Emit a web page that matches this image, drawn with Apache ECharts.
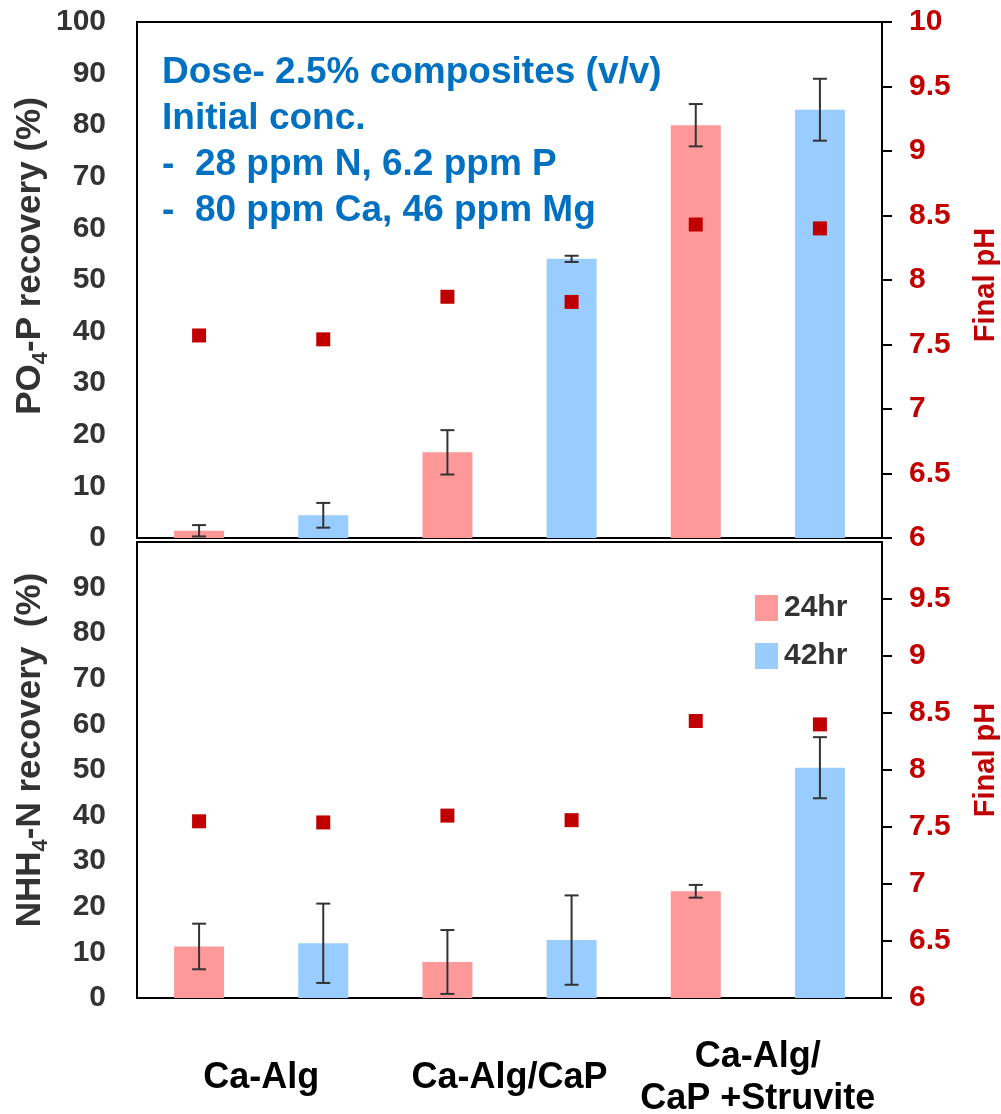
<!DOCTYPE html>
<html>
<head>
<meta charset="utf-8">
<script src="https://cdn.jsdelivr.net/npm/echarts@6/dist/echarts.min.js"></script>
<style>
  html, body { margin: 0; padding: 0; background: #fff; }
  #chart { width: 1001px; height: 1114px; }
</style>
</head>
<body>
<div id="chart"></div>
<script>
// One slot per bar: composite + contact time
const slots = ['Ca-Alg 24hr', 'Ca-Alg 42hr', 'Ca-Alg/CaP 24hr', 'Ca-Alg/CaP 42hr', 'Struvite 24hr', 'Struvite 42hr'];
const groupLabels = ['Ca-Alg', 'Ca-Alg/CaP', 'Ca-Alg/\nCaP +Struvite'];
const slotTime = ['24hr', '42hr', '24hr', '42hr', '24hr', '42hr'];

// PO4-P recovery (%) and its standard deviation
const po4Recovery = [1.4, 4.4, 16.6, 54.1, 80.0, 83.0];
const po4Err = [1.1, 2.4, 4.3, 0.6, 4.1, 6.0];
// NH4-N recovery (%) and its standard deviation
const nh4Recovery = [11.3, 12.0, 7.9, 12.7, 23.4, 50.5];
const nh4Err = [5.0, 8.7, 7.0, 9.8, 1.4, 6.7];
// Final pH
const phTop = [7.57, 7.54, 7.87, 7.83, 8.43, 8.40];
const phBottom = [7.55, 7.54, 7.60, 7.56, 8.43, 8.40];

// Axis ranges
const recoveryMin = 0, recoveryMax = 100, recoveryStep = 10;
const phMin = 6, phMax = 10, phStep = 0.5;

const FONT = "'Liberation Sans', Arial, sans-serif";
const DARK = '#333';
const RED = '#c00000';
const PINK = '#ff9999';
const BLUE = '#99ccff';

function pick(values, time) {
  return values.map((v, i) => (slotTime[i] === time ? v : '-'));
}
function errData(values, errs) {
  return values.map((v, i) => [i, Math.max(0, v - errs[i]), v + errs[i]]);
}

function renderErr(params, api) {
  const i = api.value(0);
  const lo = api.coord([i, api.value(1)]);
  const hi = api.coord([i, api.value(2)]);
  const half = 7;
  const st = { stroke: '#333', lineWidth: 2 };
  return {
    type: 'group',
    children: [
      { type: 'line', shape: { x1: lo[0], y1: lo[1], x2: hi[0], y2: hi[1] }, style: st },
      { type: 'line', shape: { x1: hi[0] - half, y1: hi[1], x2: hi[0] + half, y2: hi[1] }, style: st },
      { type: 'line', shape: { x1: lo[0] - half, y1: lo[1], x2: lo[0] + half, y2: lo[1] }, style: st }
    ]
  };
}

const leftAxisBase = {
  type: 'value', min: recoveryMin, max: recoveryMax, interval: recoveryStep,
  axisLine: { show: false }, axisTick: { show: false }, splitLine: { show: false },
  axisLabel: { margin: 31, fontSize: 30, fontWeight: 'bold', color: DARK, fontFamily: FONT }
};
const rightAxisBase = {
  type: 'value', position: 'right', min: phMin, max: phMax, interval: phStep,
  axisLine: { show: true, lineStyle: { color: '#000', width: 2 } },
  axisTick: { show: true, length: 10, lineStyle: { color: '#000', width: 2 } },
  splitLine: { show: false },
  axisLabel: { margin: 27, fontSize: 30, fontWeight: 'bold', color: RED, fontFamily: FONT }
};
const slotAxisBase = {
  type: 'category', data: slots,
  axisLine: { show: false }, axisTick: { show: false }, axisLabel: { show: false }
};

const subRich = {
  a: { fontSize: 35, fontWeight: 'bold', fill: DARK, fontFamily: FONT, lineHeight: 44 },
  s: { fontSize: 22, fontWeight: 'bold', fill: DARK, fontFamily: FONT, lineHeight: 22, verticalAlign: 'bottom' }
};

const chart = echarts.init(document.getElementById('chart'), null, { renderer: 'canvas' });
chart.setOption({
  animation: false,
  backgroundColor: '#fff',
  grid: [
    { left: 137, width: 745, top: 22, height: 516, outerBoundsMode: 'none', show: true, borderColor: '#000', borderWidth: 2 },
    { left: 137, width: 745, top: 542, height: 456, outerBoundsMode: 'none', show: true, borderColor: '#000', borderWidth: 2 }
  ],
  xAxis: [
    Object.assign({ gridIndex: 0 }, slotAxisBase),
    Object.assign({ gridIndex: 1 }, slotAxisBase),
    {
      gridIndex: 1, type: 'category', data: groupLabels, position: 'bottom',
      axisLine: { show: false }, axisTick: { show: false },
      axisLabel: {
        margin: 80, verticalAlign: 'middle', lineHeight: 42, interval: 0,
        fontSize: 36, fontWeight: 'bold', color: '#000', fontFamily: FONT
      }
    }
  ],
  yAxis: [
    Object.assign({ gridIndex: 0 }, leftAxisBase),
    Object.assign({ gridIndex: 0 }, rightAxisBase),
    Object.assign({}, leftAxisBase, { gridIndex: 1, axisLabel: Object.assign({}, leftAxisBase.axisLabel, { showMaxLabel: false }) }),
    Object.assign({}, rightAxisBase, { gridIndex: 1, axisLabel: Object.assign({}, rightAxisBase.axisLabel, { showMaxLabel: false }) })
  ],
  legend: {
    data: [{ name: '24hr', icon: 'rect' }, { name: '42hr', icon: 'rect' }],
    orient: 'vertical', left: 750, top: 588,
    itemWidth: 23, itemHeight: 26, itemGap: 18, selectedMode: false,
    textStyle: { fontSize: 30, fontWeight: 'bold', color: DARK, fontFamily: FONT, padding: [0, 0, 0, 1] }
  },
  graphic: [
    {
      type: 'text', left: 162, top: 50, z: 10,
      style: {
        text: 'Dose- 2.5% composites (v/v)\nInitial conc.\n-  28 ppm N, 6.2 ppm P\n-  80 ppm Ca, 46 ppm Mg',
        fontSize: 37, fontWeight: 'bold', fontFamily: FONT, fill: '#0070c0', lineHeight: 46
      }
    },
    {
      type: 'text', x: 30, y: 256, rotation: Math.PI / 2,
      style: { text: '{a|PO}{s|4}{a|-P recovery (%)}', rich: subRich, align: 'center', verticalAlign: 'middle' }
    },
    {
      type: 'text', x: 30, y: 750, rotation: Math.PI / 2,
      style: { text: '{a|NHH}{s|4}{a|-N recovery  (%)}', rich: subRich, align: 'center', verticalAlign: 'middle' }
    },
    {
      type: 'text', x: 986, y: 285, rotation: Math.PI / 2,
      style: { text: 'Final pH', fontSize: 29, fontWeight: 'bold', fontFamily: FONT, fill: RED, align: 'center', verticalAlign: 'middle' }
    },
    {
      type: 'text', x: 986, y: 760, rotation: Math.PI / 2,
      style: { text: 'Final pH', fontSize: 29, fontWeight: 'bold', fontFamily: FONT, fill: RED, align: 'center', verticalAlign: 'middle' }
    }
  ],
  series: [
    // PO4-P panel
    { name: '24hr', type: 'bar', xAxisIndex: 0, yAxisIndex: 0, stack: 'p', barWidth: 50, itemStyle: { color: PINK }, data: pick(po4Recovery, '24hr') },
    { name: '42hr', type: 'bar', xAxisIndex: 0, yAxisIndex: 0, stack: 'p', barWidth: 50, itemStyle: { color: BLUE }, data: pick(po4Recovery, '42hr') },
    { type: 'custom', xAxisIndex: 0, yAxisIndex: 0, renderItem: renderErr, encode: { x: 0, y: [1, 2] }, data: errData(po4Recovery, po4Err), z: 5 },
    { type: 'scatter', xAxisIndex: 0, yAxisIndex: 1, symbol: 'rect', symbolSize: 14, itemStyle: { color: RED, opacity: 1 }, data: phTop, z: 6 },
    // NH4-N panel
    { name: '24hr', type: 'bar', xAxisIndex: 1, yAxisIndex: 2, stack: 'n', barWidth: 50, itemStyle: { color: PINK }, data: pick(nh4Recovery, '24hr') },
    { name: '42hr', type: 'bar', xAxisIndex: 1, yAxisIndex: 2, stack: 'n', barWidth: 50, itemStyle: { color: BLUE }, data: pick(nh4Recovery, '42hr') },
    { type: 'custom', xAxisIndex: 1, yAxisIndex: 2, renderItem: renderErr, encode: { x: 0, y: [1, 2] }, data: errData(nh4Recovery, nh4Err), z: 5 },
    { type: 'scatter', xAxisIndex: 1, yAxisIndex: 3, symbol: 'rect', symbolSize: 14, itemStyle: { color: RED, opacity: 1 }, data: phBottom, z: 6 }
  ]
});
</script>
</body>
</html>
